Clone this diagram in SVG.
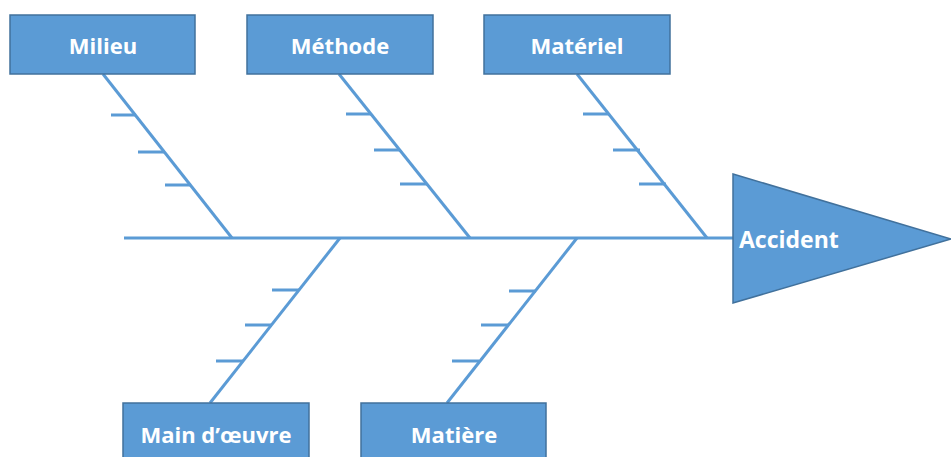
<svg xmlns="http://www.w3.org/2000/svg" width="951" height="457" viewBox="0 0 951 457">
<style>
.box{fill:#5b9bd5;stroke:#41719c;stroke-width:1.5}
.lbl{fill:#fff;font-family:"Open Sans","Liberation Sans",sans-serif;font-weight:bold;font-size:22px;text-anchor:middle}
.bone{stroke:#5b9bd5;stroke-width:3;fill:none;stroke-linecap:butt}
</style>
<rect width="951" height="457" fill="#fff"/>
<g id="connectors">
<line class="bone" x1="124" y1="238" x2="735" y2="238"/>
<line class="bone" x1="103" y1="74" x2="232" y2="238"/>
<line class="bone" x1="111" y1="115" x2="136" y2="115"/>
<line class="bone" x1="138" y1="152" x2="164" y2="152"/>
<line class="bone" x1="165" y1="185" x2="191" y2="185"/>
<line class="bone" x1="339" y1="74" x2="470" y2="238"/>
<line class="bone" x1="346" y1="114" x2="371" y2="114"/>
<line class="bone" x1="374" y1="150" x2="400" y2="150"/>
<line class="bone" x1="400" y1="184" x2="427" y2="184"/>
<line class="bone" x1="577" y1="74" x2="707" y2="238"/>
<line class="bone" x1="583" y1="114" x2="609" y2="114"/>
<line class="bone" x1="613" y1="150" x2="640" y2="150"/>
<line class="bone" x1="639" y1="184" x2="666" y2="184"/>
<line class="bone" x1="340" y1="238" x2="210" y2="403"/>
<line class="bone" x1="272" y1="290" x2="299" y2="290"/>
<line class="bone" x1="245" y1="325" x2="272" y2="325"/>
<line class="bone" x1="216" y1="361" x2="243" y2="361"/>
<line class="bone" x1="577" y1="238" x2="447" y2="403"/>
<line class="bone" x1="509" y1="291" x2="536" y2="291"/>
<line class="bone" x1="481" y1="325" x2="508" y2="325"/>
<line class="bone" x1="452" y1="361" x2="479" y2="361"/>
</g>
<g id="milieu"><rect class="box" x="10" y="15" width="185" height="59"/><text class="lbl" x="103" y="54">Milieu</text></g>
<g id="methode"><rect class="box" x="247" y="15" width="186" height="59"/><text class="lbl" x="340" y="54">Méthode</text></g>
<g id="materiel"><rect class="box" x="484" y="15" width="186" height="59"/><text class="lbl" x="577" y="54">Matériel</text></g>
<g id="main-oeuvre"><rect class="box" x="123" y="403" width="186" height="60"/><text class="lbl" x="216" y="443">Main d’œuvre</text></g>
<g id="matiere"><rect class="box" x="361" y="403" width="185" height="60"/><text class="lbl" x="454" y="443">Matière</text></g>
<g id="accident"><polygon class="box" points="733,174 951,239 733,303"/><text class="lbl" x="739" y="248" style="text-anchor:start;font-size:23px">Accident</text></g>
</svg>
